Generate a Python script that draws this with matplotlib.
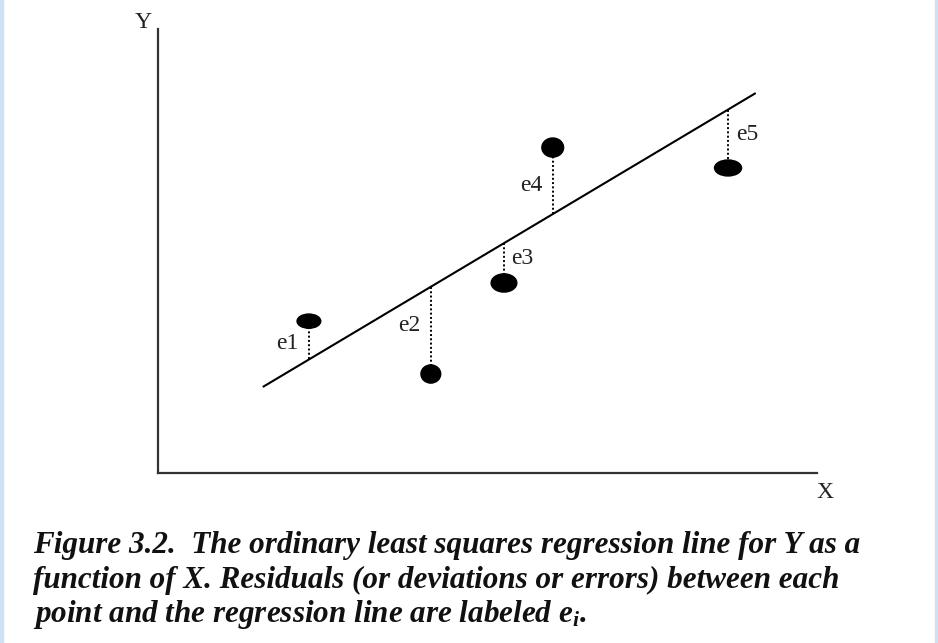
import matplotlib
matplotlib.use("Agg")
import matplotlib.pyplot as plt
from matplotlib.patches import Ellipse, Rectangle
import numpy as np

# ---- data (arbitrary units, axes span 0..10) ----
point_labels = ["e1", "e2", "e3", "e4", "e5"]
x_vals = [2.29, 4.14, 5.25, 5.99, 8.65]
y_vals = [3.42, 2.23, 4.28, 7.33, 6.87]
# marker sizes (data units) and which side the label sits on
marker_w = [0.36, 0.30, 0.39, 0.33, 0.41]
marker_h = [0.32, 0.41, 0.41, 0.43, 0.36]
label_side = ["left", "left", "right", "left", "right"]

intercept = 0.53
slope = 0.885
line_x_range = [1.59, 9.07]

caption_lines = [
    "Figure 3.2.  The ordinary least squares regression line for Y as a",
    "function of X. Residuals (or deviations or errors) between each",
    "point and the regression line are labeled e$_{i}$.",
]

plt.rcParams["mathtext.fontset"] = "custom"
plt.rcParams["mathtext.it"] = "Liberation Serif:italic:bold"
plt.rcParams["mathtext.rm"] = "Liberation Serif:italic:bold"

W, H = 938, 643
fig = plt.figure(figsize=(W / 100, H / 100), dpi=100)
fig.patch.set_facecolor("white")

# light blue side bars
bar_col = "#cfe2f3"
fig.patches.append(Rectangle((0, 0), 3 / W, 1, transform=fig.transFigure,
                             color=bar_col, zorder=0))
fig.patches.append(Rectangle((935 / W, 0), 3 / W, 1, transform=fig.transFigure,
                             color=bar_col, zorder=0))

ax_left, ax_right, ax_top, ax_bottom = 158, 817, 29, 473
ax = fig.add_axes([ax_left / W, (H - ax_bottom) / H,
                   (ax_right - ax_left) / W, (ax_bottom - ax_top) / H])
ax.set_xlim(0, 10)
ax.set_ylim(0, 10)
ax.set_facecolor("none")
for s in ["top", "right"]:
    ax.spines[s].set_visible(False)
for s in ["left", "bottom"]:
    ax.spines[s].set_color("#333333")
    ax.spines[s].set_linewidth(1.6)
ax.set_xticks([])
ax.set_yticks([])

# regression line
lx = np.array(line_x_range)
ax.plot(lx, intercept + slope * lx, color="black", lw=1.5, solid_capstyle="butt")

# points, residuals, labels
for lab, x, y, w, h, side in zip(point_labels, x_vals, y_vals, marker_w,
                                 marker_h, label_side):
    ax.add_patch(Ellipse((x, y), w, h, facecolor="black", edgecolor="black", zorder=3))
    yfit = intercept + slope * x
    yend = y - h / 2 if y > yfit else y + h / 2
    ax.plot([x, x], [yfit, yend], color="black", lw=1.4, ls=(0, (1, 1.2)))
    ymid = (yfit + yend) / 2
    if side == "left":
        ax.annotate(lab, (x, ymid), xytext=(-7.5, 0), textcoords="offset points",
                    ha="right", va="center", fontsize=17, family="Liberation Serif",
                    color="#222222")
    else:
        ax.annotate(lab, (x, ymid), xytext=(5.5, 0), textcoords="offset points",
                    ha="left", va="center", fontsize=17, family="Liberation Serif",
                    color="#222222")

# axis labels
fig.text(143 / W, 1 - 23 / H, "Y", ha="center", va="center", fontsize=17,
         family="Liberation Serif", color="#222222")
fig.text(825 / W, 1 - 492 / H, "X", ha="center", va="center", fontsize=17,
         family="Liberation Serif", color="#222222")

# caption
baselines = [553, 588, 622]
for txt, b in zip(caption_lines, baselines):
    fig.text(33 / W, 1 - b / H, txt, ha="left", va="baseline", fontsize=22.4,
             family="Liberation Serif", style="italic", weight="bold",
             color="#111111")

fig.savefig("out.png", dpi=100)
